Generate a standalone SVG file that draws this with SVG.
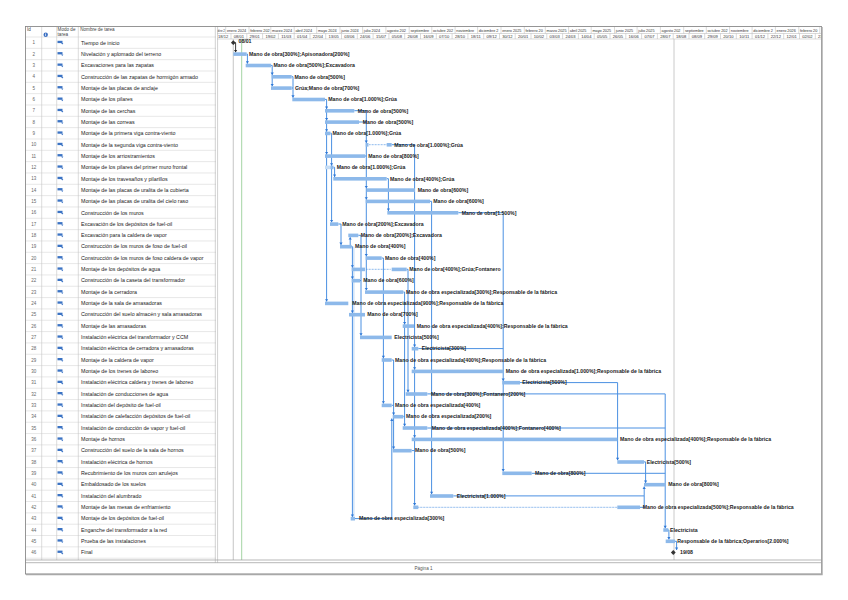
<svg xmlns="http://www.w3.org/2000/svg" width="848" height="600" viewBox="0 0 848 600">
<style>
.bar{fill:#8DB9EA}
.lbl{font-family:"Liberation Sans",Arial,sans-serif;font-size:5.2px;font-weight:bold;fill:#1b1b1b}
.nm{font-family:"Liberation Sans",Arial,sans-serif;font-size:5.3px;fill:#222}
.id{font-family:"Liberation Sans",Arial,sans-serif;font-size:4.5px;fill:#666;text-anchor:middle}
.hd{font-family:"Liberation Sans",Arial,sans-serif;font-size:4.6px;fill:#444}
.ts{font-family:"Liberation Sans",Arial,sans-serif;font-size:4.1px;fill:#333}
.tm{font-family:"Liberation Sans",Arial,sans-serif;font-size:3.8px;fill:#333}
.tc{text-anchor:middle}
.cn{stroke:#4A90E2;stroke-width:1;fill:none}
.cl{stroke:#A9CBF0;stroke-width:.8;fill:none}
.ar{fill:#2F78D6}
.dot{stroke:#4A90E2;stroke-width:.8;stroke-dasharray:.8 .7;fill:none}
.grid{stroke:#D6D6D6;stroke-width:.6;fill:none}
.sep{stroke:#B5B5B5;stroke-width:.5;fill:none}
</style>
<defs>
<path id="ad" d="M-1.6,-2.4H1.6L0,0Z"/>
<path id="au" d="M-1.6,2.4H1.6L0,0Z"/>
<g id="mode"><rect x="0" y="-1.9" width="5" height="2.3" fill="#3B73C4"/><path d="M3.6,0.4H5.9L4.8,1.9Z" fill="#3B73C4"/></g>
<clipPath id="cc"><rect x="217" y="26" width="604.5" height="536"/></clipPath>
</defs>
<rect x="0" y="0" width="848" height="600" fill="#fff"/>

<g id="table">
<path class="grid" d="M25.5 37H216M25.5 48.33H216M25.5 59.66H216M25.5 70.99H216M25.5 82.32H216M25.5 93.65H216M25.5 104.98H216M25.5 116.31H216M25.5 127.64H216M25.5 138.97H216M25.5 150.3H216M25.5 161.63H216M25.5 172.96H216M25.5 184.29H216M25.5 195.62H216M25.5 206.95H216M25.5 218.28H216M25.5 229.61H216M25.5 240.94H216M25.5 252.27H216M25.5 263.6H216M25.5 274.93H216M25.5 286.26H216M25.5 297.59H216M25.5 308.92H216M25.5 320.25H216M25.5 331.58H216M25.5 342.91H216M25.5 354.24H216M25.5 365.57H216M25.5 376.9H216M25.5 388.23H216M25.5 399.56H216M25.5 410.89H216M25.5 422.22H216M25.5 433.55H216M25.5 444.88H216M25.5 456.21H216M25.5 467.54H216M25.5 478.87H216M25.5 490.2H216M25.5 501.53H216M25.5 512.86H216M25.5 524.19H216M25.5 535.52H216M25.5 546.85H216M25.5 558.18H216"/>
<path stroke="#C4C4C4" stroke-width=".6" fill="none" d="M41.7 26.5V560M56.7 26.5V560M78.3 26.5V560"/>
<text class="hd" x="27" y="30.8">Id</text>
<circle cx="45.7" cy="34.8" r="2.2" fill="#3A6FC2"/>
<rect x="45.35" y="33.9" width=".7" height="2.2" fill="#fff"/>
<rect x="45.35" y="32.9" width=".7" height=".6" fill="#fff"/>
<text class="hd" x="57.6" y="30.8">Modo de</text>
<text class="hd" x="57.6" y="36">tarea</text>
<text class="hd" x="80.2" y="30.8">Nombre de tarea</text>
</g>

<g id="timescale">
<path class="sep" d="M217 33.5H821.5M217 39H821.5"/>
<path class="sep" d="M225.7 26.5V33.5M249 26.5V33.5M270.8 26.5V33.5M294.2 26.5V33.5M316.7 26.5V33.5M340 26.5V33.5M362.6 26.5V33.5M385.9 26.5V33.5M409.2 26.5V33.5M431.8 26.5V33.5M455.1 26.5V33.5M477.6 26.5V33.5M501 26.5V33.5M524.3 26.5V33.5M545.3 26.5V33.5M568.6 26.5V33.5M591.2 26.5V33.5M614.5 26.5V33.5M637.1 26.5V33.5M660.4 26.5V33.5M683.7 26.5V33.5M706.3 26.5V33.5M729.6 26.5V33.5M752.1 26.5V33.5M775.4 26.5V33.5M798.8 26.5V33.5M819.8 26.5V33.5"/>
<path class="sep" d="M231 33.5V39M246.8 33.5V39M262.6 33.5V39M278.4 33.5V39M294.2 33.5V39M310 33.5V39M325.7 33.5V39M341.5 33.5V39M357.3 33.5V39M373.1 33.5V39M388.9 33.5V39M404.7 33.5V39M420.5 33.5V39M436.3 33.5V39M452.1 33.5V39M467.9 33.5V39M483.7 33.5V39M499.5 33.5V39M515.2 33.5V39M531 33.5V39M546.8 33.5V39M562.6 33.5V39M578.4 33.5V39M594.2 33.5V39M610 33.5V39M625.8 33.5V39M641.6 33.5V39M657.4 33.5V39M673.2 33.5V39M689 33.5V39M704.7 33.5V39M720.5 33.5V39M736.3 33.5V39M752.1 33.5V39M767.9 33.5V39M783.7 33.5V39M799.5 33.5V39M815.3 33.5V39"/>
<g clip-path="url(#cc)">
<g class="tm">
<text x="217.6" y="31.8" textLength="7.4" lengthAdjust="spacingAndGlyphs">dire 2</text>
<text x="226.9" y="31.8">enero 2024</text>
<text x="250.2" y="31.8">febrero 202</text>
<text x="272" y="31.8">marzo 2024</text>
<text x="295.4" y="31.8">abril 2024</text>
<text x="317.9" y="31.8">mayo 2024</text>
<text x="341.2" y="31.8">junio 2024</text>
<text x="363.8" y="31.8">julio 2024</text>
<text x="387.1" y="31.8">agosto 202</text>
<text x="410.4" y="31.8">septiembre</text>
<text x="433" y="31.8">octubre 202</text>
<text x="456.3" y="31.8">noviembre</text>
<text x="478.8" y="31.8">diciembre 2</text>
<text x="502.2" y="31.8">enero 2025</text>
<text x="525.5" y="31.8">febrero 20</text>
<text x="546.5" y="31.8">marzo 2025</text>
<text x="569.8" y="31.8">abril 2025</text>
<text x="592.4" y="31.8">mayo 2025</text>
<text x="615.7" y="31.8">junio 2025</text>
<text x="638.3" y="31.8">julio 2025</text>
<text x="661.6" y="31.8">agosto 202</text>
<text x="684.9" y="31.8">septiembre</text>
<text x="707.5" y="31.8">octubre 202</text>
<text x="730.8" y="31.8">noviembre</text>
<text x="753.3" y="31.8">diciembre 2</text>
<text x="776.6" y="31.8">enero 2026</text>
<text x="800" y="31.8">febrero 20</text>
</g>
<g class="ts tc">
<text x="223.1" y="37.7">18/12</text><text x="238.9" y="37.7">08/01</text><text x="254.7" y="37.7">29/01</text><text x="270.5" y="37.7">19/02</text><text x="286.3" y="37.7">11/03</text><text x="302.1" y="37.7">01/04</text><text x="317.9" y="37.7">22/04</text><text x="333.6" y="37.7">13/05</text><text x="349.4" y="37.7">03/06</text><text x="365.2" y="37.7">24/06</text><text x="381" y="37.7">15/07</text><text x="396.8" y="37.7">05/08</text><text x="412.6" y="37.7">26/08</text><text x="428.4" y="37.7">16/09</text><text x="444.2" y="37.7">07/10</text><text x="460" y="37.7">28/10</text><text x="475.8" y="37.7">18/11</text><text x="491.6" y="37.7">09/12</text><text x="507.4" y="37.7">30/12</text><text x="523.1" y="37.7">20/01</text><text x="538.9" y="37.7">10/02</text><text x="554.7" y="37.7">03/03</text><text x="570.5" y="37.7">24/03</text><text x="586.3" y="37.7">14/04</text><text x="602.1" y="37.7">05/05</text><text x="617.9" y="37.7">26/05</text><text x="633.7" y="37.7">16/06</text><text x="649.5" y="37.7">07/07</text><text x="665.3" y="37.7">28/07</text><text x="681.1" y="37.7">18/08</text><text x="696.9" y="37.7">08/09</text><text x="712.7" y="37.7">29/09</text><text x="728.4" y="37.7">20/10</text><text x="744.2" y="37.7">10/11</text><text x="760" y="37.7">01/12</text><text x="775.8" y="37.7">22/12</text><text x="791.6" y="37.7">12/01</text><text x="807.4" y="37.7">02/02</text><text x="823.2" y="37.7">23/02</text>
</g>
</g>
</g>

<g id="guides">
<path d="M233.3 39V560" stroke="#CFCFCF" stroke-width="1.2"/>
<path d="M241.7 39V560" stroke="#8CC88C" stroke-width=".8"/>
<path d="M674 39V560" stroke="#BDBDBD" stroke-width=".8"/>
<path d="M215.3 26.5V562.7M217.6 26.5V562.7" stroke="#B0B0B0" stroke-width=".6"/>
</g>

<g id="connectors" clip-path="url(#cc)">
<path d="M234.6 42.7H235.6V52.3" stroke="#222" stroke-width=".9" fill="none"/>
<use href="#ad" x="235.6" y="52.3" fill="#222"/>
<path class="cl" d="M353.9 246.6V516.9"/>
<path class="cn" d="M246.7 54H247.4V63.7M271 65.4H272.2V86.3M291.7 76.7H293V97.7M291.7 88H293M325 99.4H326.6V301.6M330.5 133.3H331.6V222.3M333.5 167.3H334.6V177M338.3 224H341V244.9M351.7 246.6H350.2V237.2M351.7 246.6H352.4V516.9M358.3 235.3H361V335.6M360 280.6H361M386.7 178.7H388.4V211M391.7 144.7H414.6V505.5M415 190H414.6M414 326H414.6M411.7 450.6H414.6M430 201.3H431.6V494.2M458.3 212.7H503.2V471.5M418.3 348.6H503.2M381.7 258H383.4V403.6M391.7 360H393.6V448.9M391.7 405.3H393.6M355 518.6H391.8V418.5M403.3 292H404.6V426.2M403.3 416.6H404.6M406.7 269.3H408V392.2M520 382.6H617.6V460.2M617.3 439.3H617.6M644 461.9H645.6V482.9M453.3 495.9H644.2V486.5M640 507.3H644.2V495.9M427.3 393.9H665.2V528.2M427.3 428H665.2M531.7 473.3H665.2M668.3 529.9H668.9V539.5M675 541.3H676.6V550"/>
<path class="cn" stroke-width="1.4" d="M354.3 110.7H366.3V290.3M359 122H366.3M365 156H366.3"/>
<g class="ar">
<use href="#ad" x="247.4" y="63.7"/><use href="#ad" x="272.2" y="75"/><use href="#ad" x="272.2" y="86.3"/><use href="#ad" x="293" y="97.7"/>
<use href="#ad" x="326.6" y="109"/><use href="#ad" x="326.6" y="120.3"/><use href="#ad" x="326.6" y="131.6"/><use href="#ad" x="326.6" y="154.3"/><use href="#ad" x="326.6" y="301.6"/>
<use href="#ad" x="331.6" y="165.6"/><use href="#ad" x="331.6" y="222.3"/><use href="#ad" x="334.6" y="177"/><use href="#ad" x="341" y="244.9"/>
<use href="#ad" x="352.4" y="267.6"/><use href="#ad" x="352.4" y="278.9"/><use href="#ad" x="352.4" y="312.9"/><use href="#ad" x="352.4" y="516.9"/>
<use href="#ad" x="361" y="335.6"/>
<use href="#ad" x="366.3" y="143"/><use href="#ad" x="366.3" y="188.3"/><use href="#ad" x="366.3" y="199.6"/><use href="#ad" x="366.3" y="256.3"/><use href="#ad" x="366.3" y="290.3"/>
<use href="#ad" x="388.4" y="211"/>
<use href="#ad" x="414.6" y="346.9"/><use href="#ad" x="414.6" y="369.6"/><use href="#ad" x="414.6" y="437.6"/><use href="#ad" x="414.6" y="505.5"/>
<use href="#ad" x="431.6" y="494.2"/><use href="#ad" x="503.2" y="380.9"/><use href="#ad" x="503.2" y="471.5"/>
<use href="#ad" x="383.4" y="358.2"/><use href="#ad" x="383.4" y="403.6"/><use href="#ad" x="393.6" y="414.9"/><use href="#ad" x="393.6" y="448.9"/>
<use href="#ad" x="404.6" y="324.3"/><use href="#ad" x="404.6" y="426.2"/><use href="#ad" x="408" y="392.2"/>
<use href="#ad" x="617.6" y="460.2"/><use href="#ad" x="645.6" y="482.9"/><use href="#ad" x="665.2" y="528.2"/><use href="#ad" x="668.9" y="539.5"/><use href="#ad" x="676.6" y="550"/>
<use href="#au" x="350.2" y="237.2"/><use href="#au" x="391.8" y="418.5"/><use href="#au" x="644.2" y="486.5"/>
</g>
<path class="dot" d="M369 144.7H386.5M366 269.3H390.5M418.3 507.3H617"/>
</g>

<g id="task-1"><text class="id" x="33.8" y="44.3">1</text><use href="#mode" x="57.5" y="42.7"/><text class="nm" x="81" y="44.5">Tiempo de inicio</text><polygon points="233.3,40.3 235.7,42.7 233.3,45.1 230.9,42.7" fill="#333"/><text class="lbl" x="238.5" y="43.4">08/01</text></g>
<g id="task-2"><text class="id" x="33.8" y="55.6">2</text><use href="#mode" x="57.5" y="54"/><text class="nm" x="81" y="55.8">Nivelación y aplomado del terreno</text><rect class="bar" x="233.3" y="52.3" width="13.4" height="3.6"/><text class="lbl" x="249" y="55.8">Mano de obra[300%];Apisonadora[200%]</text></g>
<g id="task-3"><text class="id" x="33.8" y="67">3</text><use href="#mode" x="57.5" y="65.4"/><text class="nm" x="81" y="67.2">Excavaciones para las zapatas</text><rect class="bar" x="245.7" y="63.7" width="25.3" height="3.6"/><text class="lbl" x="273.5" y="67.2">Mano de obra[500%];Excavadora</text></g>
<g id="task-4"><text class="id" x="33.8" y="78.3">4</text><use href="#mode" x="57.5" y="76.7"/><text class="nm" x="81" y="78.5">Construcción de las zapatas de hormigón armado</text><rect class="bar" x="271.7" y="75" width="20" height="3.6"/><text class="lbl" x="294.5" y="78.5">Mano de obra[500%]</text></g>
<g id="task-5"><text class="id" x="33.8" y="89.6">5</text><use href="#mode" x="57.5" y="88"/><text class="nm" x="81" y="89.8">Montaje de las placas de anclaje</text><rect class="bar" x="271" y="86.3" width="20.7" height="3.6"/><text class="lbl" x="295" y="89.8">Grúa;Mano de obra[700%]</text></g>
<g id="task-6"><text class="id" x="33.8" y="101">6</text><use href="#mode" x="57.5" y="99.4"/><text class="nm" x="81" y="101.2">Montaje de los pilares</text><rect class="bar" x="292.3" y="97.7" width="32.7" height="3.6"/><text class="lbl" x="328.3" y="101.2">Mano de obra[1.000%];Grúa</text></g>
<g id="task-7"><text class="id" x="33.8" y="112.3">7</text><use href="#mode" x="57.5" y="110.7"/><text class="nm" x="81" y="112.5">Montaje de las cerchas</text><rect class="bar" x="325" y="109" width="29.3" height="3.6"/><text class="lbl" x="357.7" y="112.5">Mano de obra[500%]</text></g>
<g id="task-8"><text class="id" x="33.8" y="123.6">8</text><use href="#mode" x="57.5" y="122"/><text class="nm" x="81" y="123.8">Montaje de las correas</text><rect class="bar" x="325" y="120.3" width="34" height="3.6"/><text class="lbl" x="362.7" y="123.8">Mano de obra[500%]</text></g>
<g id="task-9"><text class="id" x="33.8" y="134.9">9</text><use href="#mode" x="57.5" y="133.3"/><text class="nm" x="81" y="135.1">Montaje de la primera viga contra-viento</text><rect class="bar" x="325" y="131.6" width="5.5" height="3.6"/><text class="lbl" x="332.5" y="135.1">Mano de obra[1.000%];Grúa</text></g>
<g id="task-10"><text class="id" x="33.8" y="146.3">10</text><use href="#mode" x="57.5" y="144.7"/><text class="nm" x="81" y="146.5">Montaje de la segunda viga contra-viento</text><rect class="bar" x="365.7" y="143" width="2.8" height="3.6"/><rect class="bar" x="386.7" y="143" width="5" height="3.6"/><text class="lbl" x="394.3" y="146.5">Mano de obra[1.000%];Grúa</text></g>
<g id="task-11"><text class="id" x="33.8" y="157.6">11</text><use href="#mode" x="57.5" y="156"/><text class="nm" x="81" y="157.8">Montaje de los arriostramientos</text><rect class="bar" x="325" y="154.3" width="40" height="3.6"/><text class="lbl" x="368.3" y="157.8">Mano de obra[800%]</text></g>
<g id="task-12"><text class="id" x="33.8" y="168.9">12</text><use href="#mode" x="57.5" y="167.3"/><text class="nm" x="81" y="169.1">Montaje de los pilares del primer muro frontal</text><rect x="325" y="165.6" width="5" height="3.6" fill="#C6DDF5"/><rect class="bar" x="330.3" y="165.6" width="3.2" height="3.6"/><text class="lbl" x="336.7" y="169.1">Mano de obra[1.000%];Grúa</text></g>
<g id="task-13"><text class="id" x="33.8" y="180.3">13</text><use href="#mode" x="57.5" y="178.7"/><text class="nm" x="81" y="180.5">Montaje de los travesaños y pilarillos</text><rect class="bar" x="333.3" y="177" width="53.4" height="3.6"/><text class="lbl" x="390" y="180.5">Mano de obra[400%];Grúa</text></g>
<g id="task-14"><text class="id" x="33.8" y="191.6">14</text><use href="#mode" x="57.5" y="190"/><text class="nm" x="81" y="191.8">Montaje de las placas de uralita de la cubierta</text><rect class="bar" x="366.7" y="188.3" width="48.3" height="3.6"/><text class="lbl" x="417.7" y="191.8">Mano de obra[600%]</text></g>
<g id="task-15"><text class="id" x="33.8" y="202.9">15</text><use href="#mode" x="57.5" y="201.3"/><text class="nm" x="81" y="203.1">Montaje de las placas de uralita del cielo raso</text><rect class="bar" x="365.7" y="199.6" width="64.3" height="3.6"/><text class="lbl" x="433.3" y="203.1">Mano de obra[600%]</text></g>
<g id="task-16"><text class="id" x="33.8" y="214.3">16</text><use href="#mode" x="57.5" y="212.7"/><text class="nm" x="81" y="214.5">Construcción de los muros</text><rect class="bar" x="387.3" y="211" width="71" height="3.6"/><text class="lbl" x="461.7" y="214.5">Mano de obra[1.500%]</text></g>
<g id="task-17"><text class="id" x="33.8" y="225.6">17</text><use href="#mode" x="57.5" y="224"/><text class="nm" x="81" y="225.8">Excavación de los depósitos de fuel-oil</text><rect class="bar" x="330" y="222.3" width="8.3" height="3.6"/><text class="lbl" x="342.3" y="225.8">Mano de obra[200%];Excavadora</text></g>
<g id="task-18"><text class="id" x="33.8" y="236.9">18</text><use href="#mode" x="57.5" y="235.3"/><text class="nm" x="81" y="237.1">Excavación para la caldera de vapor</text><rect class="bar" x="348.3" y="233.6" width="10" height="3.6"/><text class="lbl" x="360.7" y="237.1">Mano de obra[200%];Excavadora</text></g>
<g id="task-19"><text class="id" x="33.8" y="248.2">19</text><use href="#mode" x="57.5" y="246.6"/><text class="nm" x="81" y="248.4">Construcción de los muros de foso de fuel-oil</text><rect class="bar" x="340" y="244.9" width="11.7" height="3.6"/><text class="lbl" x="355" y="248.4">Mano de obra[400%]</text></g>
<g id="task-20"><text class="id" x="33.8" y="259.6">20</text><use href="#mode" x="57.5" y="258"/><text class="nm" x="81" y="259.8">Construcción de los muros de foso caldera de vapor</text><rect class="bar" x="365.7" y="256.3" width="16" height="3.6"/><text class="lbl" x="385" y="259.8">Mano de obra[400%]</text></g>
<g id="task-21"><text class="id" x="33.8" y="270.9">21</text><use href="#mode" x="57.5" y="269.3"/><text class="nm" x="81" y="271.1">Montaje de los depósitos de agua</text><rect class="bar" x="351.7" y="267.6" width="13.3" height="3.6"/><rect class="bar" x="391.7" y="267.6" width="15" height="3.6"/><text class="lbl" x="409.3" y="271.1">Mano de obra[400%];Grúa;Fontanero</text></g>
<g id="task-22"><text class="id" x="33.8" y="282.2">22</text><use href="#mode" x="57.5" y="280.6"/><text class="nm" x="81" y="282.4">Construcción de la caseta del transformador</text><rect class="bar" x="351.7" y="278.9" width="8.3" height="3.6"/><text class="lbl" x="363.3" y="282.4">Mano de obra[600%]</text></g>
<g id="task-23"><text class="id" x="33.8" y="293.6">23</text><use href="#mode" x="57.5" y="292"/><text class="nm" x="81" y="293.8">Montaje de la cerradora</text><rect class="bar" x="365" y="290.3" width="38.3" height="3.6"/><text class="lbl" x="406" y="293.8">Mano de obra especializada[300%];Responsable de la fábrica</text></g>
<g id="task-24"><text class="id" x="33.8" y="304.9">24</text><use href="#mode" x="57.5" y="303.3"/><text class="nm" x="81" y="305.1">Montaje de la sala de amasadoras</text><rect class="bar" x="325" y="301.6" width="23.3" height="3.6"/><text class="lbl" x="352.3" y="305.1">Mano de obra especializada[900%];Responsable de la fábrica</text></g>
<g id="task-25"><text class="id" x="33.8" y="316.2">25</text><use href="#mode" x="57.5" y="314.6"/><text class="nm" x="81" y="316.4">Construcción del suelo almacén y sala amasadoras</text><rect class="bar" x="349" y="312.9" width="16" height="3.6"/><text class="lbl" x="367.3" y="316.4">Mano de obra[700%]</text></g>
<g id="task-26"><text class="id" x="33.8" y="327.6">26</text><use href="#mode" x="57.5" y="326"/><text class="nm" x="81" y="327.8">Montaje de las amasadoras</text><rect class="bar" x="402.7" y="324.3" width="11.3" height="3.6"/><text class="lbl" x="416.7" y="327.8">Mano de obra especializada[400%];Responsable de la fábrica</text></g>
<g id="task-27"><text class="id" x="33.8" y="338.9">27</text><use href="#mode" x="57.5" y="337.3"/><text class="nm" x="81" y="339.1">Instalación eléctrica del transformador y CCM</text><rect class="bar" x="360" y="335.6" width="31.7" height="3.6"/><text class="lbl" x="394.3" y="339.1">Electricista[500%]</text></g>
<g id="task-28"><text class="id" x="33.8" y="350.2">28</text><use href="#mode" x="57.5" y="348.6"/><text class="nm" x="81" y="350.4">Instalación eléctrica de cerradora y amasadoras</text><rect class="bar" x="411.7" y="346.9" width="6.6" height="3.6"/><text class="lbl" x="421.7" y="350.4">Electricista[300%]</text></g>
<g id="task-29"><text class="id" x="33.8" y="361.5">29</text><use href="#mode" x="57.5" y="359.9"/><text class="nm" x="81" y="361.7">Montaje de la caldera de vapor</text><rect class="bar" x="381.7" y="358.2" width="10" height="3.6"/><text class="lbl" x="395" y="361.7">Mano de obra especializada[400%];Responsable de la fábrica</text></g>
<g id="task-30"><text class="id" x="33.8" y="372.9">30</text><use href="#mode" x="57.5" y="371.3"/><text class="nm" x="81" y="373.1">Montaje de los trenes de laboreo</text><rect class="bar" x="411.7" y="369.6" width="91.6" height="3.6"/><text class="lbl" x="505.7" y="373.1">Mano de obra especializada[1.000%];Responsable de la fábrica</text></g>
<g id="task-31"><text class="id" x="33.8" y="384.2">31</text><use href="#mode" x="57.5" y="382.6"/><text class="nm" x="81" y="384.4">Instalación eléctrica caldera y trenes de laboreo</text><rect class="bar" x="502.3" y="380.9" width="17.7" height="3.6"/><text class="lbl" x="522.3" y="384.4">Electricista[500%]</text></g>
<g id="task-32"><text class="id" x="33.8" y="395.5">32</text><use href="#mode" x="57.5" y="393.9"/><text class="nm" x="81" y="395.7">Instalación de conducciones de agua</text><rect class="bar" x="405.7" y="392.2" width="21.6" height="3.6"/><text class="lbl" x="431" y="395.7">Mano de obra[300%];Fontanero[200%]</text></g>
<g id="task-33"><text class="id" x="33.8" y="406.9">33</text><use href="#mode" x="57.5" y="405.3"/><text class="nm" x="81" y="407.1">Instalación del depósito de fuel-oil</text><rect class="bar" x="381.7" y="403.6" width="10" height="3.6"/><text class="lbl" x="395" y="407.1">Mano de obra especializada[400%]</text></g>
<g id="task-34"><text class="id" x="33.8" y="418.2">34</text><use href="#mode" x="57.5" y="416.6"/><text class="nm" x="81" y="418.4">Instalación de calefacción depósitos de fuel-oil</text><rect class="bar" x="392.7" y="414.9" width="10.6" height="3.6"/><text class="lbl" x="406" y="418.4">Mano de obra especializada[200%]</text></g>
<g id="task-35"><text class="id" x="33.8" y="429.5">35</text><use href="#mode" x="57.5" y="427.9"/><text class="nm" x="81" y="429.7">Instalación de conducción de vapor y fuel-oil</text><rect class="bar" x="402.7" y="426.2" width="24.6" height="3.6"/><text class="lbl" x="431.7" y="429.7">Mano de obra especializada[400%];Fontanero[400%]</text></g>
<g id="task-36"><text class="id" x="33.8" y="440.9">36</text><use href="#mode" x="57.5" y="439.3"/><text class="nm" x="81" y="441.1">Montaje de hornos</text><rect class="bar" x="411.7" y="437.6" width="205.6" height="3.6"/><text class="lbl" x="620" y="441.1">Mano de obra especializada[400%];Responsable de la fábrica</text></g>
<g id="task-37"><text class="id" x="33.8" y="452.2">37</text><use href="#mode" x="57.5" y="450.6"/><text class="nm" x="81" y="452.4">Construcción del suelo de la sala de hornos</text><rect class="bar" x="392.7" y="448.9" width="19" height="3.6"/><text class="lbl" x="415" y="452.4">Mano de obra[500%]</text></g>
<g id="task-38"><text class="id" x="33.8" y="463.5">38</text><use href="#mode" x="57.5" y="461.9"/><text class="nm" x="81" y="463.7">Instalación eléctrica de hornos</text><rect class="bar" x="617.3" y="460.2" width="26.7" height="3.6"/><text class="lbl" x="646.7" y="463.7">Electricista[500%]</text></g>
<g id="task-39"><text class="id" x="33.8" y="474.8">39</text><use href="#mode" x="57.5" y="473.2"/><text class="nm" x="81" y="475">Recubrimiento de los muros con azulejos</text><rect class="bar" x="502.3" y="471.5" width="29.4" height="3.6"/><text class="lbl" x="535" y="475">Mano de obra[800%]</text></g>
<g id="task-40"><text class="id" x="33.8" y="486.2">40</text><use href="#mode" x="57.5" y="484.6"/><text class="nm" x="81" y="486.4">Embaldosado de los suelos</text><rect class="bar" x="644" y="482.9" width="21.7" height="3.6"/><text class="lbl" x="668.3" y="486.4">Mano de obra[800%]</text></g>
<g id="task-41"><text class="id" x="33.8" y="497.5">41</text><use href="#mode" x="57.5" y="495.9"/><text class="nm" x="81" y="497.7">Instalación del alumbrado</text><rect class="bar" x="430" y="494.2" width="23.3" height="3.6"/><text class="lbl" x="456.7" y="497.7">Electricista[1.000%]</text></g>
<g id="task-42"><text class="id" x="33.8" y="508.8">42</text><use href="#mode" x="57.5" y="507.2"/><text class="nm" x="81" y="509">Montaje de las mesas de enfriamiento</text><rect class="bar" x="413.3" y="505.5" width="5" height="3.6"/><rect class="bar" x="617.3" y="505.5" width="22.7" height="3.6"/><text class="lbl" x="642.7" y="509">Mano de obra especializada[500%];Responsable de la fábrica</text></g>
<g id="task-43"><text class="id" x="33.8" y="520.2">43</text><use href="#mode" x="57.5" y="518.6"/><text class="nm" x="81" y="520.4">Montaje de los depósitos de fuel-oil</text><rect class="bar" x="350.7" y="516.9" width="4.3" height="3.6"/><text class="lbl" x="359" y="520.4">Mano de obra especializada[300%]</text></g>
<g id="task-44"><text class="id" x="33.8" y="531.5">44</text><use href="#mode" x="57.5" y="529.9"/><text class="nm" x="81" y="531.7">Enganche del transformador a la red</text><rect class="bar" x="663.3" y="528.2" width="5" height="3.6"/><text class="lbl" x="670" y="531.7">Electricista</text></g>
<g id="task-45"><text class="id" x="33.8" y="542.8">45</text><use href="#mode" x="57.5" y="541.2"/><text class="nm" x="81" y="543">Prueba de las instalaciones</text><rect class="bar" x="665.7" y="539.5" width="9.3" height="3.6"/><text class="lbl" x="677.3" y="543">Responsable de la fábrica;Operarios[2.000%]</text></g>
<g id="task-46"><text class="id" x="33.8" y="554.1">46</text><use href="#mode" x="57.5" y="552.5"/><text class="nm" x="81" y="554.3">Final</text><polygon points="673.3,550.1 675.7,552.5 673.3,554.9 670.9,552.5" fill="#333"/><text class="lbl" x="680" y="554.3">19/08</text></g>

<g id="frame">
<path d="M25.5 560H821.5M25.5 562.7H821.5" stroke="#9A9A9A" stroke-width=".7" fill="none"/>
<rect x="25.5" y="26.5" width="796" height="547.5" fill="none" stroke="#8A8A8A" stroke-width=".9"/>
<path d="M822 27V574.5H26" stroke="#A8A8A8" stroke-width="1.4" fill="none"/>
<text x="423.5" y="570.2" text-anchor="middle" font-family="Liberation Sans, Arial, sans-serif" font-size="4.6" fill="#555">Página 1</text>
</g>
</svg>
